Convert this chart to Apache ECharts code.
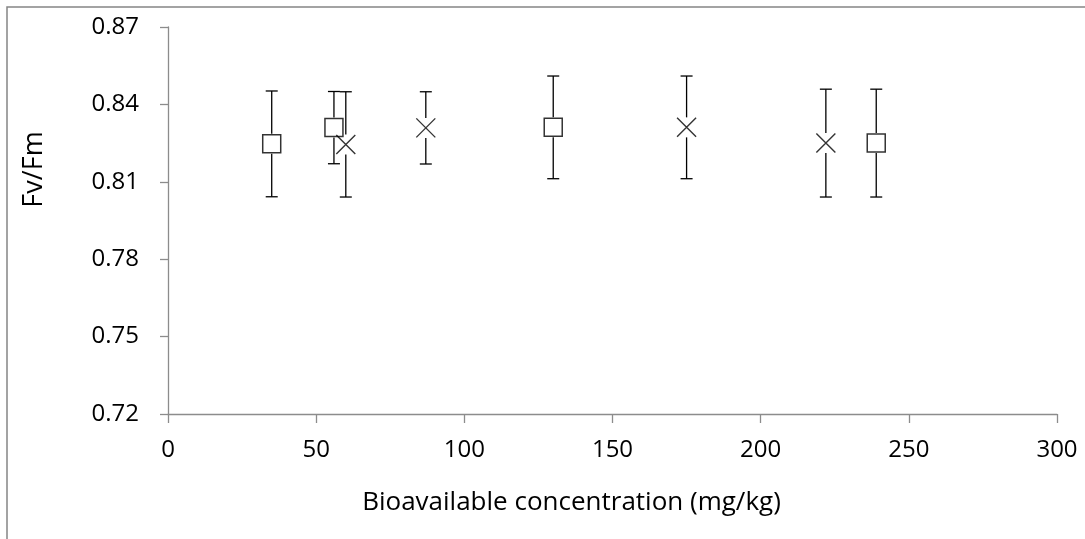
<!DOCTYPE html>
<html>
<head>
<meta charset="utf-8">
<script src="https://cdn.jsdelivr.net/npm/echarts@6/dist/echarts.min.js"></script>
<style>
  html, body { margin: 0; padding: 0; background: #fff; }
  #chart { width: 1085px; height: 539px; }
</style>
</head>
<body>
<div id="chart"></div>
<script>
// squares
const squareX = [35, 56, 130, 239];
const squareY = [0.8247, 0.8310, 0.8311, 0.8250];
const squareErr = [0.0205, 0.0140, 0.0199, 0.0209];
// crosses
const crossX = [60, 87, 175, 222];
const crossY = [0.8245, 0.8309, 0.8311, 0.8250];
const crossErr = [0.0204, 0.0140, 0.0199, 0.0209];

const xTicks = { min: 0, max: 300, step: 50 };
const yTicks = { min: 0.72, max: 0.87, step: 0.03 };

const FONT = '"Open Sans", "Noto Sans", sans-serif';

const myChart = echarts.init(document.getElementById('chart'));

function points(xs, ys) {
  return xs.map((x, i) => [x, ys[i]]);
}
function bars(xs, ys, errs) {
  return xs.map((x, i) => [x, ys[i], ys[i] - errs[i], ys[i] + errs[i]]);
}

// error bar with a gap around the marker
function renderErrorBar(params, api) {
  const c = api.coord([api.value(0), api.value(1)]);
  const lo = api.coord([api.value(0), api.value(2)]);
  const hi = api.coord([api.value(0), api.value(3)]);
  const cap = 6, gap = 10;
  const style = { stroke: '#000', lineWidth: 1.3 };
  return {
    type: 'group',
    children: [
      { type: 'line', shape: { x1: c[0], y1: hi[1], x2: c[0], y2: c[1] - gap }, style },
      { type: 'line', shape: { x1: c[0], y1: c[1] + gap, x2: c[0], y2: lo[1] }, style },
      { type: 'line', shape: { x1: c[0] - cap, y1: hi[1], x2: c[0] + cap, y2: hi[1] }, style },
      { type: 'line', shape: { x1: c[0] - cap, y1: lo[1], x2: c[0] + cap, y2: lo[1] }, style }
    ]
  };
}

const option = {
  animation: false,
  backgroundColor: '#fff',
  graphic: [
    {
      type: 'rect',
      shape: { x: 7, y: 7, width: 1200, height: 700 },
      style: { fill: 'none', stroke: '#858585', lineWidth: 1.5 },
      silent: true
    }
  ],
  grid: { left: 168, right: 28, top: 27, bottom: 125 },
  xAxis: {
    type: 'value',
    min: xTicks.min,
    max: xTicks.max,
    interval: xTicks.step,
    name: 'Bioavailable concentration (mg/kg)',
    nameLocation: 'middle',
    nameGap: 76,
    nameTextStyle: { fontFamily: FONT, fontSize: 26, color: '#000', padding: [0, 82, 0, 0] },
    axisLine: { lineStyle: { color: '#8c8c8c', width: 1.3 } },
    axisTick: { show: true, length: 9, lineStyle: { color: '#8c8c8c', width: 1.3 } },
    axisLabel: { fontFamily: FONT, fontSize: 24, color: '#000', margin: 24 },
    splitLine: { show: false }
  },
  yAxis: {
    type: 'value',
    min: yTicks.min,
    max: yTicks.max,
    interval: yTicks.step,
    name: 'Fv/Fm',
    nameLocation: 'middle',
    nameGap: 120,
    nameTextStyle: { fontFamily: FONT, fontSize: 27, color: '#000', padding: [0, 0, 0, 102] },
    axisLine: { show: true, lineStyle: { color: '#8c8c8c', width: 1.3 } },
    axisTick: { show: true, length: 8, lineStyle: { color: '#8c8c8c', width: 1.3 } },
    axisLabel: {
      fontFamily: FONT, fontSize: 24, color: '#000', margin: 29,
      formatter: v => v.toFixed(2)
    },
    splitLine: { show: false }
  },
  series: [
    {
      type: 'custom',
      renderItem: renderErrorBar,
      data: bars(squareX, squareY, squareErr),
      encode: { x: 0, y: [1, 2, 3] },
      z: 1
    },
    {
      type: 'custom',
      renderItem: renderErrorBar,
      data: bars(crossX, crossY, crossErr),
      encode: { x: 0, y: [1, 2, 3] },
      z: 1
    },
    {
      name: 'square',
      type: 'scatter',
      symbol: 'rect',
      symbolSize: 18,
      data: points(squareX, squareY),
      itemStyle: { color: '#fff', borderColor: '#000', borderWidth: 1.5 },
      z: 3
    },
    {
      name: 'cross',
      type: 'scatter',
      symbol: 'path://M0,0L10,10M10,0L0,10',
      symbolSize: 19,
      data: points(crossX, crossY),
      itemStyle: { color: 'none', borderColor: '#000', borderWidth: 1.4 },
      z: 3
    }
  ]
};
myChart.setOption(option);
</script>
</body>
</html>
